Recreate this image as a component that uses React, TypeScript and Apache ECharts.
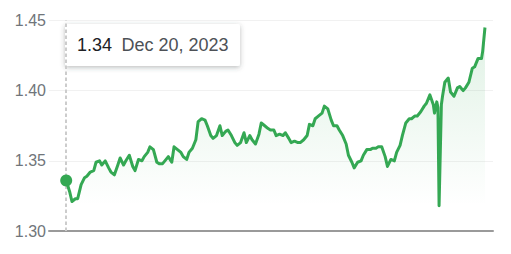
import React, { useEffect, useRef } from "react";
import * as echarts from "echarts";

// One-year USD/CAD style rate history; days counted from the start date.
const START_DATE = Date.UTC(2023, 11, 20);

const days = [
  0, 3, 5, 8, 10, 13, 16, 18, 21, 24, 26, 29, 31, 34, 37, 39, 42, 45, 47, 50,
  52, 55, 58, 60, 63, 66, 68, 71, 73, 76, 79, 81, 84, 86, 89, 92, 94, 97, 100, 102,
  105, 107, 110, 113, 115, 118, 121, 123, 126, 128, 131, 134, 136, 139, 141, 144, 147, 149, 152, 155,
  157, 160, 162, 165, 168, 170, 173, 176, 178, 181, 183, 186, 189, 191, 194, 196, 199, 202, 204, 207,
  210, 212, 215, 217, 220, 223, 225, 228, 231, 233, 236, 238, 241, 244, 246, 249, 251, 254, 257, 259,
  262, 265, 267, 270, 272, 275, 278, 280, 283, 286, 288, 291, 293, 296, 299, 301, 304, 306, 309, 312,
  314, 317, 320, 321, 323, 324, 325, 327, 328, 330, 333, 335, 338, 341, 343, 346, 348, 351, 354, 356,
  359, 362, 363, 365,
];

const rates = [
  1.336, 1.328, 1.321, 1.323, 1.323, 1.333, 1.338, 1.339, 1.342, 1.343, 1.349, 1.350, 1.347, 1.350, 1.345, 1.342, 1.340, 1.347, 1.352, 1.347,
  1.350, 1.354, 1.346, 1.343, 1.351, 1.350, 1.353, 1.356, 1.360, 1.358, 1.349, 1.348, 1.348, 1.350, 1.353, 1.349, 1.360, 1.358, 1.356, 1.353,
  1.351, 1.356, 1.359, 1.365, 1.378, 1.380, 1.379, 1.375, 1.368, 1.366, 1.368, 1.375, 1.368, 1.371, 1.372, 1.368, 1.363, 1.361, 1.363, 1.370,
  1.363, 1.368, 1.365, 1.362, 1.369, 1.377, 1.375, 1.373, 1.372, 1.372, 1.368, 1.369, 1.368, 1.370, 1.366, 1.363, 1.364, 1.363, 1.363, 1.365,
  1.368, 1.376, 1.375, 1.380, 1.382, 1.384, 1.389, 1.387, 1.379, 1.375, 1.375, 1.372, 1.368, 1.362, 1.354, 1.349, 1.345, 1.349, 1.350, 1.354,
  1.358, 1.358, 1.359, 1.359, 1.360, 1.360, 1.353, 1.346, 1.351, 1.350, 1.356, 1.361, 1.368, 1.377, 1.380, 1.380, 1.382, 1.382, 1.385, 1.389,
  1.391, 1.397, 1.390, 1.384, 1.392, 1.388, 1.318, 1.390, 1.396, 1.406, 1.409, 1.399, 1.396, 1.402, 1.403, 1.400, 1.402, 1.406, 1.416, 1.417,
  1.423, 1.423, 1.428, 1.445,
];

const Y_MIN = 1.3;
const Y_MAX = 1.45;
const Y_STEP = 0.05;

const GREEN = "#34a853";
const FONT = "Arial, 'Liberation Sans', sans-serif";

export default function App() {
  const ref = useRef<HTMLDivElement>(null);

  useEffect(() => {
    if (!ref.current) return;
    const chart = echarts.init(ref.current, undefined, { renderer: "svg" });

    const points = days.map((d, i) => [d, rates[i]]);
    const lowest = Math.min(...rates);
    const focusDay = days[0];
    const focusRate = rates[0];
    const focusDate = new Date(START_DATE + focusDay * 86400000).toLocaleDateString("en-US", {
      month: "short",
      day: "numeric",
      year: "numeric",
      timeZone: "UTC",
    });

    chart.setOption({
      animation: false,
      grid: { left: 49, right: 18, top: 20.5, bottom: 23, containLabel: false },
      xAxis: {
        type: "value",
        min: -15,
        max: 372,
        axisLine: { show: true, onZero: false, lineStyle: { color: "#9a9a9a", width: 2 } },
        axisTick: { show: false },
        axisLabel: { show: false },
        splitLine: { show: false },
      },
      yAxis: {
        type: "value",
        min: Y_MIN,
        max: Y_MAX,
        interval: Y_STEP,
        axisLine: { show: false },
        axisTick: { show: false },
        axisLabel: {
          margin: 3,
          color: "#70757a",
          fontSize: 16,
          fontFamily: FONT,
          formatter: (v: number) => v.toFixed(2),
        },
        splitLine: { show: true, lineStyle: { color: "#f1f1f1", width: 1 } },
      },
      series: [
        {
          type: "line",
          data: points,
          showSymbol: false,
          symbol: "none",
          lineStyle: { color: GREEN, width: 3, join: "round" },
          areaStyle: {
            origin: lowest,
            color: new echarts.graphic.LinearGradient(0, 0, 0, 1, [
              { offset: 0, color: "rgba(52,168,83,0.22)" },
              { offset: 1, color: "rgba(52,168,83,0)" },
            ]),
          },
          markLine: {
            silent: true,
            z: 1,
            symbol: "none",
            label: { show: false },
            lineStyle: { color: "#cccccc", width: 2, type: [3.5, 2.5] },
            data: [{ xAxis: focusDay }],
          },
          z: 2,
        },
        {
          type: "scatter",
          data: [[focusDay, focusRate]],
          symbol: "circle",
          symbolSize: 12,
          itemStyle: { color: GREEN, opacity: 1 },
          z: 6,
        },
      ],
      graphic: [
        {
          type: "group",
          left: 65,
          top: 24,
          children: [
            {
              type: "rect",
              shape: { x: 0, y: 0, width: 175, height: 42, r: 2 },
              style: {
                fill: "#ffffff",
                shadowBlur: 5,
                shadowOffsetX: 0,
                shadowOffsetY: 1.5,
                shadowColor: "rgba(60,64,67,0.35)",
              },
            },
            {
              type: "text",
              x: 12,
              y: 21,
              style: {
                text: focusRate.toFixed(2),
                fill: "#202124",
                fontSize: 18,
                fontFamily: FONT,
                verticalAlign: "middle",
                align: "left",
              },
            },
            {
              type: "text",
              x: 56.5,
              y: 21,
              style: {
                text: focusDate,
                fill: "#4d5156",
                fontSize: 18,
                fontFamily: FONT,
                verticalAlign: "middle",
                align: "left",
              },
            },
          ],
        },
      ],
    });

    return () => chart.dispose();
  }, []);

  return (
    <div
      ref={ref}
      style={{ position: "absolute", left: 0, top: 0, width: 511, height: 254 }}
    />
  );
}
